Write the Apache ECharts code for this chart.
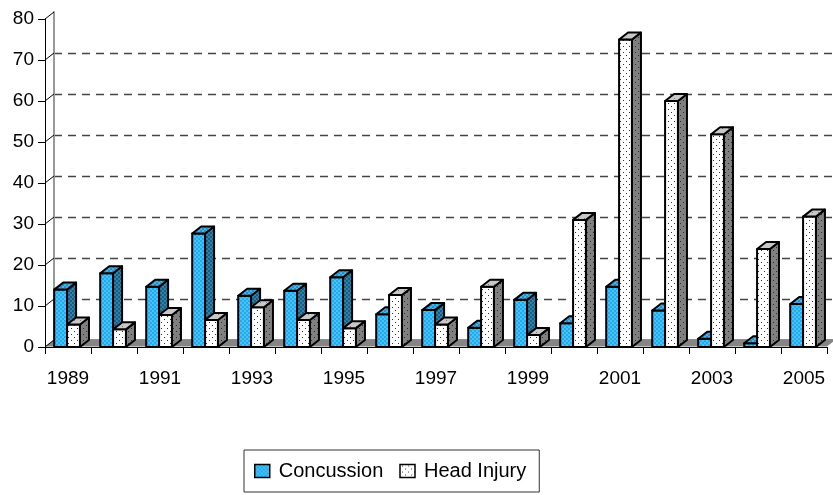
<!DOCTYPE html>
<html>
<head>
<meta charset="utf-8">
<script src="https://cdn.jsdelivr.net/npm/echarts@6/dist/echarts.min.js"></script>
<style>
    html, body {margin: 0; padding: 0; background: #fff;}
    #chart {width: 833px; height: 495px;}
</style>
</head>
<body>
<div id="chart"></div>
<script>
const years = ['1989', '1990', '1991', '1992', '1993', '1994', '1995', '1996', '1997',
    '1998', '1999', '2000', '2001', '2002', '2003', '2004', '2005'];
const concussion = [14, 18, 14.7, 27.7, 12.5, 13.7, 17, 8, 9, 4.7, 11.5, 5.8, 14.7, 8.9, 2, 0.9, 10.5];
const headInjury = [5.5, 4.3, 7.8, 6.6, 9.7, 6.6, 4.6, 12.7, 5.5, 14.7, 2.9, 31, 75, 60, 51.9, 23.9, 31.8];
const yTicks = [0, 10, 20, 30, 40, 50, 60, 70, 80];

// 3d depth offset (px) and bar layout as a share of the band
const DX = 9, DY = -7;
const BAR_W = 0.28;
const AXIS_FONT = "'Liberation Sans Narrow', 'Liberation Sans', Arial, sans-serif";

function makePattern(size, base, dotColor, dots) {
    let c = document.createElement('canvas');
    c.width = c.height = size;
    let ctx = c.getContext('2d');
    ctx.fillStyle = base;
    ctx.fillRect(0, 0, size, size);
    ctx.fillStyle = dotColor;
    dots.forEach(function (d) {
        ctx.fillRect(d[0], d[1], d[2] || 1, d[3] || 1);
    });
    return {image: c, repeat: 'repeat'};
}

const checker = [[0, 0, 2, 2], [2, 2, 2, 2]];
const sparse = [[2, 1], [5, 4]];
const CONC = {
    front: makePattern(4, '#3fc6fa', '#2ba6e8', checker),
    side: makePattern(4, '#1c5c7e', '#2b84ae', checker),
    top: makePattern(4, '#2e8cc0', '#46b4e6', checker)
};
const HEAD = {
    front: makePattern(6, '#ffffff', '#333333', sparse),
    side: makePattern(6, '#808080', '#2e2e2e', sparse),
    top: makePattern(6, '#c8c8c8', '#777777', [[2, 2]])
};

function renderBar(fill, offset) {
    return function (params, api) {
        let idx = api.value(0);
        let base = api.coord([idx, 0]);
        let peak = api.coord([idx, api.value(1)]);
        let bw = api.size([1, 0])[0];
        let x0 = base[0] + offset * bw;
        let x1 = x0 + BAR_W * bw;
        let y0 = base[1], y1 = peak[1];
        let line = {stroke: '#000', lineWidth: 2, lineJoin: 'round'};
        return {
            type: 'group',
            children: [
                {type: 'polygon', shape: {points: [[x0, y0], [x1, y0], [x1, y1], [x0, y1]]},
                    style: Object.assign({fill: fill.front}, line)},
                {type: 'polygon', shape: {points: [[x1, y0], [x1 + DX, y0 + DY], [x1 + DX, y1 + DY], [x1, y1]]},
                    style: Object.assign({fill: fill.side}, line)},
                {type: 'polygon', shape: {points: [[x0, y1], [x1, y1], [x1 + DX, y1 + DY], [x0 + DX, y1 + DY]]},
                    style: Object.assign({fill: fill.top}, line)}
            ]
        };
    };
}

let myChart = echarts.init(document.getElementById('chart'), null, {renderer: 'canvas'});

let option = {
    animation: false,
    backgroundColor: '#fff',
    legend: {
        left: 244,
        top: 450,
        orient: 'horizontal',
        padding: [11, 13, 11, 10],
        itemGap: 16,
        itemWidth: 15,
        itemHeight: 13,
        borderColor: '#333',
        borderWidth: 1,
        textStyle: {fontFamily: "'Liberation Sans', Arial, sans-serif", fontSize: 20, color: '#000', padding: [0, 0, 0, 4]},
        data: [
            {name: 'Concussion', icon: 'rect', itemStyle: {color: CONC.front, borderColor: '#000', borderWidth: 1.5}},
            {name: 'Head Injury', icon: 'rect', itemStyle: {color: HEAD.front, borderColor: '#000', borderWidth: 1.5}}
        ]
    },
    grid: [
        // front plane
        {left: 45, top: 19, width: 782, height: 328},
        // back wall
        {left: 45 + DX, top: 19 + DY, width: 782, height: 328}
    ],
    xAxis: [
        {
            type: 'category',
            gridIndex: 0,
            data: years,
            z: 5,
            axisLine: {lineStyle: {color: '#000', width: 1}},
            axisTick: {show: true, interval: 0, length: 7, lineStyle: {color: '#000'}},
            axisLabel: {interval: 1, margin: 22, color: '#000', fontSize: 19, fontFamily: AXIS_FONT},
            splitLine: {show: false}
        },
        {
            type: 'value',
            gridIndex: 1,
            position: 'top',
            min: 0,
            max: 1,
            axisLine: {show: true, lineStyle: {color: '#999', width: 2}},
            axisTick: {show: false},
            axisLabel: {show: false},
            splitLine: {show: false}
        }
    ],
    yAxis: [
        {
            type: 'value',
            gridIndex: 0,
            min: 0,
            max: 80,
            interval: 10,
            z: 5,
            axisLine: {show: true, lineStyle: {color: '#000', width: 1}},
            axisTick: {show: true, length: 7, lineStyle: {color: '#000'}},
            axisLabel: {margin: 11, color: '#000', fontSize: 19, fontFamily: AXIS_FONT},
            splitLine: {show: false}
        },
        {
            type: 'value',
            gridIndex: 1,
            min: 0,
            max: 80,
            interval: 10,
            axisLine: {show: true, lineStyle: {color: '#999', width: 2}},
            axisTick: {show: false},
            axisLabel: {show: false},
            splitLine: {show: true, showMinLine: false, showMaxLine: false,
                lineStyle: {color: '#444', width: 1.4, type: [8, 6]}}
        }
    ],
    series: [
        {
            // floor
            type: 'custom',
            xAxisIndex: 0,
            yAxisIndex: 0,
            z: 1,
            silent: true,
            data: [[0, 0]],
            renderItem: function (params, api) {
                let cs = params.coordSys;
                let y0 = api.coord([0, 0])[1] - 0.5;
                return {
                    type: 'polygon',
                    shape: {points: [[cs.x, y0], [cs.x + cs.width, y0],
                        [cs.x + cs.width + DX, y0 + DY], [cs.x + DX, y0 + DY]]},
                    style: {fill: '#858585'}
                };
            }
        },
        {
            // side wall tick joins
            type: 'custom',
            xAxisIndex: 0,
            yAxisIndex: 0,
            z: 1,
            silent: true,
            data: yTicks.map(function (v) { return [0, v]; }),
            renderItem: function (params, api) {
                let cs = params.coordSys;
                let y = api.coord([0, api.value(1)])[1];
                return {
                    type: 'line',
                    shape: {x1: cs.x, y1: y, x2: cs.x + DX, y2: y + DY},
                    style: {stroke: '#000', lineWidth: 1}
                };
            }
        },
        {
            name: 'Concussion',
            type: 'custom',
            xAxisIndex: 0,
            yAxisIndex: 0,
            z: 2,
            itemStyle: {color: '#3fc6fa'},
            encode: {x: 0, y: 1},
            data: concussion.map(function (v, i) { return [i, v]; }),
            renderItem: renderBar(CONC, -0.3)
        },
        {
            name: 'Head Injury',
            type: 'custom',
            xAxisIndex: 0,
            yAxisIndex: 0,
            z: 2,
            itemStyle: {color: '#ffffff'},
            encode: {x: 0, y: 1},
            data: headInjury.map(function (v, i) { return [i, v]; }),
            renderItem: renderBar(HEAD, -0.02)
        }
    ]
};

myChart.setOption(option, true);
</script>
</body>
</html>
